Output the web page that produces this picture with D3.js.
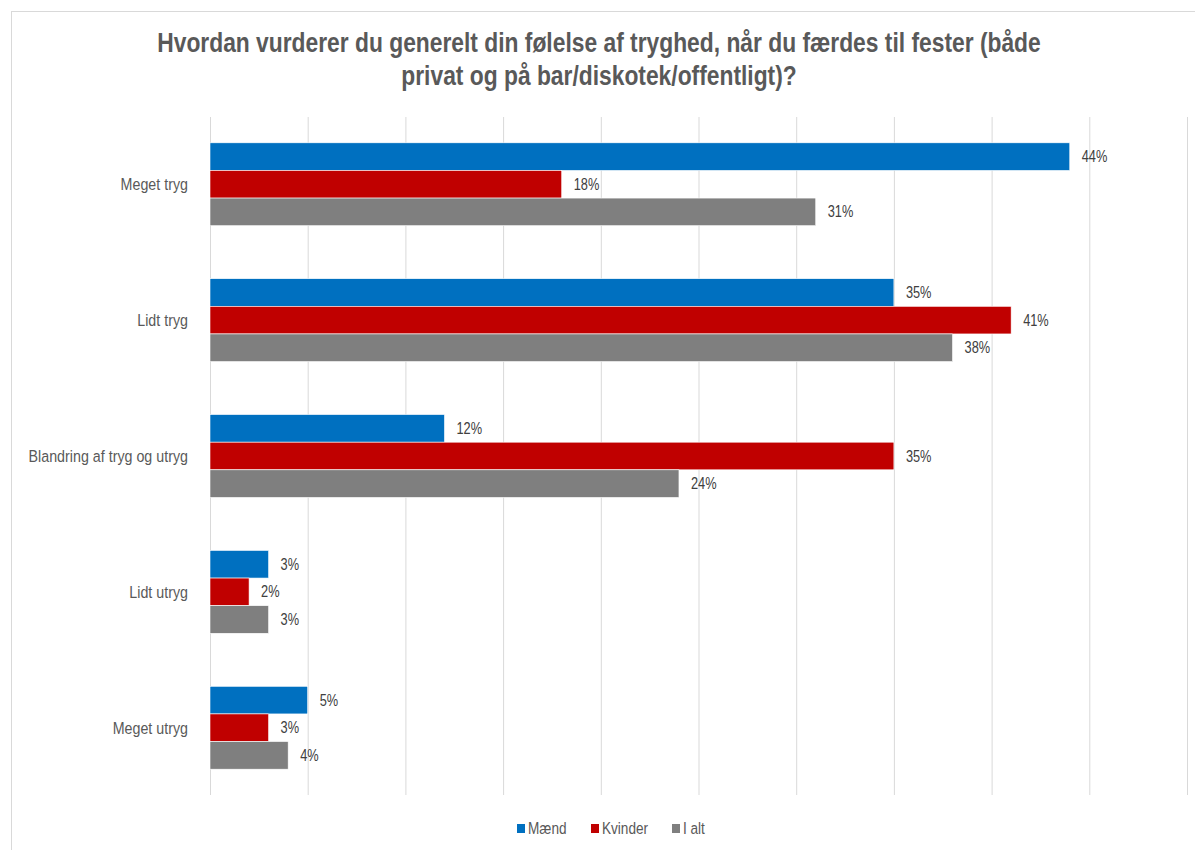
<!DOCTYPE html>
<html>
<head>
<meta charset="utf-8">
<script src="https://cdn.jsdelivr.net/npm/d3@7"></script>
<style>
  body { margin: 0; background: #fff; }
  svg text { font-family: "Liberation Sans", Arial, sans-serif; }
</style>
</head>
<body>
<div id="chart"></div>
<script>
// data
let categories = ["Meget tryg", "Lidt tryg", "Blandring af tryg og utryg", "Lidt utryg", "Meget utryg"];
let series = ["Mænd", "Kvinder", "I alt"];
let maend = [44, 35, 12, 3, 5];
let kvinder = [18, 41, 35, 2, 3];
let ialt = [31, 38, 24, 3, 4];
let colors = ["#0070C0", "#C00000", "#7F7F7F"];
let xTicks = [0, 5, 10, 15, 20, 25, 30, 35, 40, 45, 50];
let titleLines = ["Hvordan vurderer du generelt din følelse af tryghed, når du færdes til fester (både",
                  "privat og på bar/diskotek/offentligt)?"];

let total_width = 1195, total_height = 850;
let plot_left = 210, plot_right = 1187, plot_top = 117, plot_bottom = 795;
// the original uses a condensed face; squeeze the installed one horizontally
let narrow = 0.8;

let svg = d3.select("#chart").append("svg")
    .attr("width", total_width)
    .attr("height", total_height);

// outer chart border (runs off the page right/bottom)
svg.append("rect")
    .attr("x", 11.5).attr("y", 11.5)
    .attr("width", 1300).attr("height", 1000)
    .attr("fill", "#fff")
    .attr("stroke", "#d9d9d9");

let x = d3.scaleLinear().domain([0, 50]).range([plot_left, plot_right]);
let y = d3.scaleBand().domain(categories).range([plot_top, plot_bottom]).paddingInner(0.39).paddingOuter(0.19);
let y_inner = d3.scaleBand().domain(series).range([0, y.bandwidth()]);

// gridlines
svg.append("g").selectAll("line").data(xTicks).enter().append("line")
    .attr("x1", d => x(d) + 0.5).attr("x2", d => x(d) + 0.5)
    .attr("y1", plot_top).attr("y2", plot_bottom)
    .attr("stroke", "#d9d9d9").attr("stroke-width", 1);

// title
svg.append("g").selectAll("text").data(titleLines).enter().append("text")
    .attr("transform", (d, i) => "translate(599," + (52 + i * 33) + ") scale(0.815,1)")
    .attr("text-anchor", "middle")
    .attr("font-size", 28)
    .attr("font-weight", "bold")
    .attr("fill", "#595959")
    .text(d => d);

// bars
let values = [maend, kvinder, ialt];
let rows = [];
series.forEach((s, si) => {
  categories.forEach((c, ci) => rows.push({s: s, si: si, c: c, v: values[si][ci]}));
});

svg.append("g").selectAll("rect").data(rows).enter().append("rect")
    .attr("x", x(0))
    .attr("y", d => y(d.c) + y_inner(d.s))
    .attr("width", d => x(d.v) - x(0))
    .attr("height", y_inner.bandwidth())
    .attr("fill", d => colors[d.si])
    .attr("stroke", "#fff")
    .attr("stroke-width", 0.6);

// value labels
svg.append("g").selectAll("text").data(rows).enter().append("text")
    .attr("transform", d => "translate(" + (x(d.v) + 12) + "," + (y(d.c) + y_inner(d.s) + y_inner.bandwidth() / 2) + ") scale(" + narrow + ",1)")
    .attr("dy", "0.35em")
    .attr("font-size", 16)
    .attr("fill", "#404040")
    .text(d => d.v + "%");

// category labels
svg.append("g").selectAll("text").data(categories).enter().append("text")
    .attr("transform", d => "translate(188," + (y(d) + y.bandwidth() / 2) + ") scale(0.84,1)")
    .attr("dy", "0.35em")
    .attr("text-anchor", "end")
    .attr("font-size", 17)
    .attr("fill", "#595959")
    .text(d => d);

// legend
let legend_x = [517, 591, 672];
let lg = svg.append("g").selectAll("g").data(series).enter().append("g")
    .attr("transform", (d, i) => "translate(" + legend_x[i] + ",828)");
lg.append("rect")
    .attr("x", 0).attr("y", -4)
    .attr("width", 8).attr("height", 9)
    .attr("fill", (d, i) => colors[i]);
lg.append("text")
    .attr("transform", "translate(11,0) scale(" + narrow + ",1)")
    .attr("dy", "0.35em")
    .attr("font-size", 17)
    .attr("fill", "#595959")
    .text(d => d);
</script>
</body>
</html>
